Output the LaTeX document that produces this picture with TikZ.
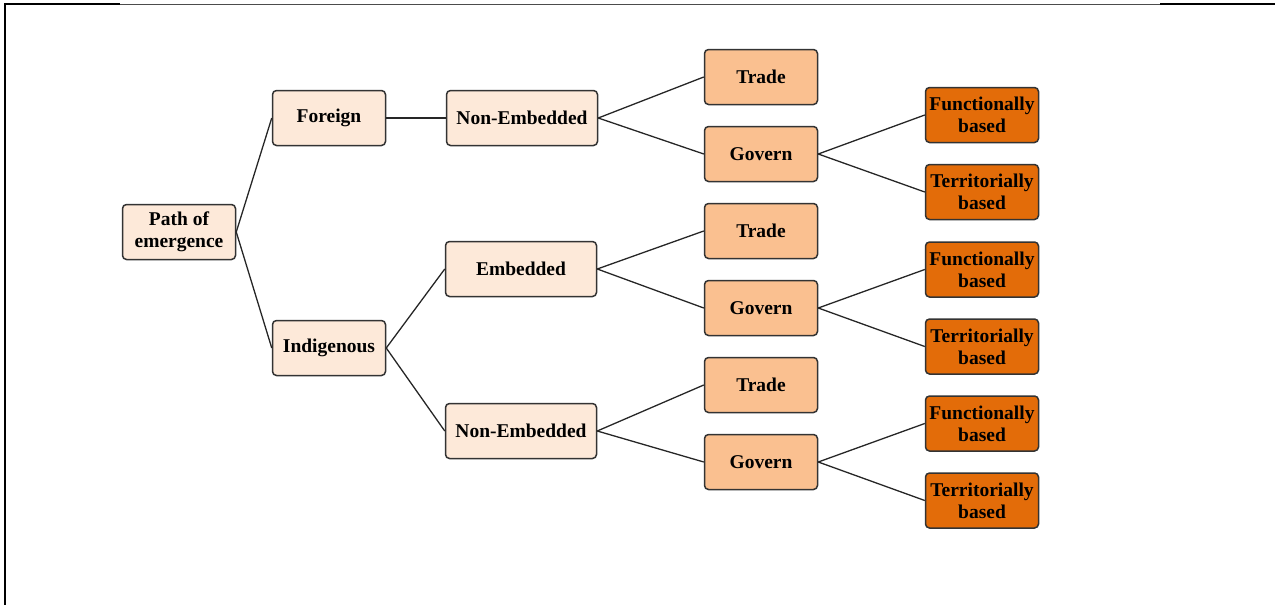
\documentclass[tikz,border=0pt]{standalone}
\usepackage{fontspec}
\setmainfont{Liberation Serif}
\begin{document}
\begin{tikzpicture}[x=1pt,y=-1pt,
  box/.style={draw=black!80, line width=1.5pt, rounded corners=4pt, align=center,
    inner sep=0pt, minimum width=113pt, minimum height=55pt,
    font=\fontsize{19.5}{22}\selectfont\bfseries, text=black},
  lvlA/.style={box, fill=lightpeach},
  lvlB/.style={box, fill=midpeach},
  lvlC/.style={box, fill=deeporange},
  wide/.style={minimum width=151pt},
  link/.style={draw=black!85, line width=1.3pt}]
\definecolor{lightpeach}{HTML}{FDE9D9}
\definecolor{midpeach}{HTML}{FAC090}
\definecolor{deeporange}{HTML}{E36C09}
\useasboundingbox (0,0) rectangle (1275,605);

% frame lines
\draw[line width=2.5pt] (5,605) -- (5,4) -- (120,4);
\draw[line width=2.5pt] (1160,4) -- (1275,4);
\draw[line width=1pt, black!70] (120,4.5) -- (1160,4.5);

% nodes
\node[lvlA] (path) at (179,232) {Path of\\emergence};
\node[lvlA] (foreign) at (329,118) {Foreign};
\node[lvlA] (indig) at (329,348) {Indigenous};
\node[lvlA, wide] (ne1) at (522,118) {Non-Embedded};
\node[lvlA, wide] (emb) at (521,269) {Embedded};
\node[lvlA, wide] (ne2) at (521,431) {Non-Embedded};
\node[lvlB] (trade1) at (761,77) {Trade};
\node[lvlB] (gov1) at (761,154) {Govern};
\node[lvlB] (trade2) at (761,231) {Trade};
\node[lvlB] (gov2) at (761,308) {Govern};
\node[lvlB] (trade3) at (761,385) {Trade};
\node[lvlB] (gov3) at (761,462) {Govern};
\node[lvlC] (fun1) at (982,115) {Functionally\\based};
\node[lvlC] (ter1) at (982,192) {Territorially\\based};
\node[lvlC] (fun2) at (982,269.5) {Functionally\\based};
\node[lvlC] (ter2) at (982,346.5) {Territorially\\based};
\node[lvlC] (fun3) at (982,423.5) {Functionally\\based};
\node[lvlC] (ter3) at (982,500.5) {Territorially\\based};

% connectors
\draw[link] (path.east) -- (foreign.west);
\draw[link] (path.east) -- (indig.west);
\draw[link] (foreign.east) -- (ne1.west);
\draw[link] (indig.east) -- (emb.west);
\draw[link] (indig.east) -- (ne2.west);
\draw[link] (ne1.east) -- (trade1.west);
\draw[link] (ne1.east) -- (gov1.west);
\draw[link] (emb.east) -- (trade2.west);
\draw[link] (emb.east) -- (gov2.west);
\draw[link] (ne2.east) -- (trade3.west);
\draw[link] (ne2.east) -- (gov3.west);
\draw[link] (gov1.east) -- (fun1.west);
\draw[link] (gov1.east) -- (ter1.west);
\draw[link] (gov2.east) -- (fun2.west);
\draw[link] (gov2.east) -- (ter2.west);
\draw[link] (gov3.east) -- (fun3.west);
\draw[link] (gov3.east) -- (ter3.west);
\end{tikzpicture}
\end{document}
